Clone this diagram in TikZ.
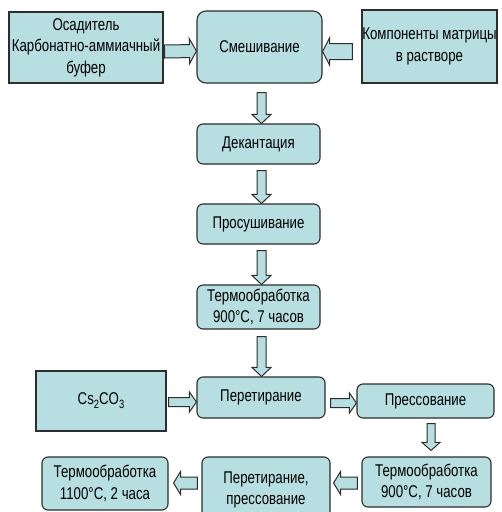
\documentclass[tikz,border=0pt]{standalone}
\usepackage{fontspec}
\setmainfont{Liberation Sans}[FakeStretch=0.78]
\usetikzlibrary{calc}
\definecolor{boxfill}{RGB}{183,222,224}
\definecolor{edge}{RGB}{45,45,45}
\newcommand\lowsub[1]{\raisebox{-0.45ex}{\fontsize{12}{12}\selectfont #1}}
\tikzset{
  base/.style={draw=edge, fill=boxfill, line width=1.1pt, inner sep=0pt, align=center,
    font=\fontsize{17}{21.5}\selectfont},
  sq/.style={base},
  rnd/.style={base, rounded corners=6pt},
  barrow/.style={draw=edge, fill=boxfill, line width=1pt, line join=miter},
}
\newcommand\blockarrow[5]{%
  \coordinate (bt) at (#4);
  \coordinate (bp) at (#5);
  \coordinate (bh) at ($(bp)!#3!(bt)$);
  \filldraw[barrow] ($(bt)!#1!90:(bp)$) -- ($(bh)!#1!90:(bp)$) -- ($(bh)!#2!90:(bp)$) -- (bp)
     -- ($(bh)!#2!-90:(bp)$) -- ($(bh)!#1!-90:(bp)$) -- ($(bt)!#1!-90:(bp)$) -- cycle;}
\begin{document}
\begin{tikzpicture}[x=1pt,y=-1pt]
\useasboundingbox (0,0) rectangle (502,512);
\clip (0,0) rectangle (502,512);
\fill[white] (0,0) rectangle (502,512);
% nodes
\node[sq, minimum width=154pt, minimum height=71pt] (osad) at (86,47.5) {Осадитель\\Карбонатно-аммиачный\\буфер};
\node[base, rounded corners=9pt, minimum width=125pt, minimum height=72pt] (mix) at (259.5,47) {Смешивание};
\node[sq, minimum width=135pt, minimum height=73pt] (comp) at (429.5,46.5) {Компоненты матрицы\\в растворе};
\node[rnd, minimum width=123pt, minimum height=40pt] (dec) at (258.5,144) {Декантация};
\node[rnd, minimum width=123pt, minimum height=40pt] (dry) at (258.5,224) {Просушивание};
\node[rnd, minimum width=123pt, minimum height=44pt] (heat1) at (258.5,307) {Термообработка\\900°C, 7 часов};
\node[sq, minimum width=130pt, minimum height=60pt] (cs) at (101,401) {Cs\lowsub{2}CO\lowsub{3}};
\node[rnd, minimum width=128pt, minimum height=41pt] (grind) at (261,397.5) {Перетирание};
\node[rnd, minimum width=137pt, minimum height=34pt] (press) at (425.5,401) {Прессование};
\node[rnd, minimum width=129pt, minimum height=50pt] (heat2) at (426.5,482) {Термообработка\\900°C, 7 часов};
\node[rnd, minimum width=128pt, minimum height=66pt] (grindpress) at (266,490) {Перетирание,\\прессование};
\node[rnd, minimum width=126pt, minimum height=53pt] (heat3) at (105,483.5) {Термообработка\\1100°C, 2 часа};
% block arrows: half shaft, half head, head length, tail, tip
\blockarrow{6.5pt}{12.5pt}{7pt}{$(osad.east)+(1,4)$}{$(mix.west)+(0,4)$}
\blockarrow{8pt}{13.5pt}{7pt}{$(comp.west)+(-9,5)$}{$(mix.east)+(0,4.5)$}
\blockarrow{4.5pt}{9.5pt}{9pt}{$(mix.south)+(2,9)$}{$(dec.north)+(3,0)$}
\blockarrow{4.5pt}{9.5pt}{9pt}{$(dec.south)+(3,6)$}{$(dry.north)+(3,0)$}
\blockarrow{4.5pt}{9.5pt}{9pt}{$(dry.south)+(3,6)$}{$(heat1.north)+(3,0)$}
\blockarrow{4.5pt}{9.5pt}{9pt}{$(heat1.south)+(3,7)$}{$(grind.north)+(0.5,0)$}
\blockarrow{4.5pt}{10pt}{7pt}{$(cs.east)+(2,1)$}{$(grind.west)+(0,4.5)$}
\blockarrow{4.5pt}{10pt}{7pt}{$(grind.east)+(5,5.5)$}{$(press.west)+(0,2)$}
\blockarrow{4pt}{9pt}{8pt}{$(press.south)+(5.5,5)$}{$(heat2.north)+(4.5,-6)$}
\blockarrow{6pt}{11.5pt}{7pt}{$(heat2.west)+(-4,1)$}{$(grindpress.east)+(3,-7)$}
\blockarrow{6pt}{11.5pt}{7pt}{$(grindpress.west)+(-4,-7)$}{$(heat3.east)+(5,-0.5)$}
\end{tikzpicture}
\end{document}
